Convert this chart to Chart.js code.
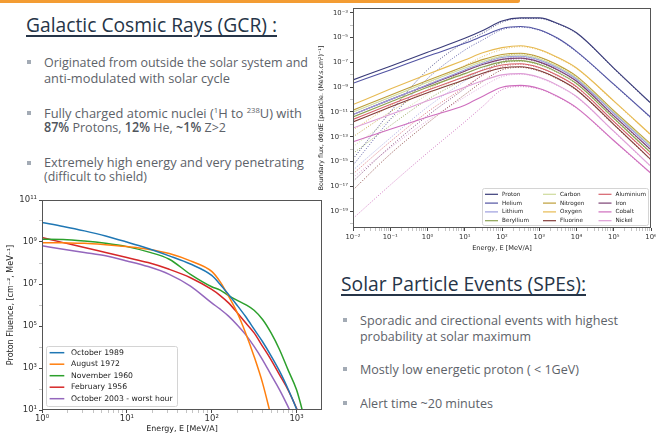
<!DOCTYPE html>
<html>
<head>
<meta charset="utf-8">
<script src="https://cdn.jsdelivr.net/npm/chart.js@4.4.0/dist/chart.umd.min.js"></script>
<style>
  body { margin:0; width:656px; height:440px; overflow:hidden; background:#fff; position:relative; font-family:'Open Sans', sans-serif; }
  .bar { position:absolute; left:0; top:-2px; width:520px; height:5px; background:#f39c33; border-radius:0 4px 4px 0; }
  .head { position:absolute; font-size:20px; color:#263548; text-decoration:underline; text-decoration-thickness:1.5px; text-underline-offset:3px; white-space:nowrap; line-height:1; transform-origin:0 0; }
  .line { position:absolute; font-size:13.5px; color:#5d6269; white-space:nowrap; line-height:1; transform-origin:0 0; }
  .line b { color:#50555c; font-weight:600; }
  .line sup { font-size:8px; line-height:0; }
  .sq { position:absolute; width:4px; height:4px; background:#a3abb5; }
  canvas { position:absolute; }
</style>
</head>
<body>
<div class="bar"></div>

<div class="head" data-w="251" style="left:26px;top:15px">Galactic Cosmic Rays (GCR) :</div>
<div class="sq" style="left:27px;top:60px"></div>
<div class="line" data-w="264" style="left:44px;top:56px">Originated from outside the solar system and</div>
<div class="line" data-w="186" style="left:44px;top:72px">anti-modulated with solar cycle</div>
<div class="sq" style="left:27px;top:111px"></div>
<div class="line" data-w="258" style="left:44px;top:107px">Fully charged atomic nuclei (<sup>1</sup>H to <sup>238</sup>U) with</div>
<div class="line" data-w="182" style="left:44px;top:121px"><b>87%</b> Protons, <b>12%</b> He, <b>~1%</b> Z&gt;2</div>
<div class="sq" style="left:27px;top:161px"></div>
<div class="line" data-w="260" style="left:44px;top:156px">Extremely high energy and very penetrating</div>
<div class="line" data-w="103" style="left:44px;top:170px">(difficult to shield)</div>

<div class="head" data-w="245" style="left:341px;top:274px">Solar Particle Events (SPEs):</div>
<div class="sq" style="left:343px;top:318px"></div>
<div class="line" data-w="258" style="left:360px;top:314px">Sporadic and cirectional events with highest</div>
<div class="line" data-w="171" style="left:360px;top:330px">probability at solar maximum</div>
<div class="sq" style="left:343px;top:367px"></div>
<div class="line" data-w="219" style="left:360px;top:363px">Mostly low energetic proton ( &lt; 1GeV)</div>
<div class="sq" style="left:343px;top:401px"></div>
<div class="line" data-w="133" style="left:360px;top:397px">Alert time ~20 minutes</div>

<canvas id="gcr" width="350" height="260" style="left:312px;top:0"></canvas>
<canvas id="spe" width="330" height="250" style="left:0;top:190px"></canvas>

<script>
// ---- GCR boundary flux (right chart), values are log10 of flux ----
const gcrEnergy = [0.01, 0.1, 1, 10, 31.6, 100, 316, 1000, 3162, 10000, 1e5, 1e6];
const gcrElements = ['Proton', 'Helium', 'Lithium', 'Beryllium', 'Carbon', 'Nitrogen',
                     'Oxygen', 'Fluorine', 'Aluminium', 'Iron', 'Cobalt', 'Nickel'];
const gcrColors = ['#393b79', '#5254a3', '#9c9ede', '#8ca252', '#cedb9c', '#bd9e39',
                   '#e7ba52', '#843c39', '#d6616b', '#7b4173', '#ce6dbd', '#de9ed6'];

const protonSolid    = [-8.41, -7.3, -6.17, -5.05, -4.4, -3.65, -3.4, -3.4, -3.85, -4.6, -7.45, -10.3];
const heliumSolid    = [-8.68, -7.6, -6.5, -5.45, -4.85, -4.25, -4.1, -4.35, -5.05, -6.1, -8.75, -11.45];
const lithiumSolid   = [-11.2, -10.0, -8.8, -7.6, -7.05, -6.6, -6.5, -6.8, -7.45, -8.35, -11.1, -13.85];
const berylliumSolid = [-11.4, -10.2, -9.0, -7.9, -7.35, -6.95, -6.85, -7.15, -7.8, -8.7, -11.5, -14.3];
const carbonSolid    = [-11.0, -9.8, -8.6, -7.45, -6.9, -6.5, -6.4, -6.7, -7.35, -8.25, -11.0, -13.7];
const nitrogenSolid  = [-10.85, -9.65, -8.45, -7.3, -6.75, -6.35, -6.25, -6.55, -7.2, -8.1, -10.9, -13.6];
const oxygenSolid    = [-10.4, -9.15, -7.95, -6.8, -6.2, -5.8, -5.65, -5.95, -6.6, -7.45, -10.1, -12.85];
const fluorineSolid  = [-11.8, -10.6, -9.45, -8.4, -7.85, -7.45, -7.35, -7.65, -8.3, -9.2, -12.0, -14.85];
const aluminiumSolid = [-11.6, -10.4, -9.25, -8.15, -7.6, -7.2, -7.1, -7.4, -8.05, -8.95, -11.75, -14.55];
const ironSolid      = [-11.2, -10.0, -8.85, -7.7, -7.15, -6.75, -6.65, -6.95, -7.6, -8.5, -11.3, -14.05];
const cobaltSolid    = [-13.4, -12.4, -11.4, -10.45, -9.7, -9.0, -8.85, -9.1, -9.75, -10.65, -13.3, -15.95];
const nickelSolid    = [-12.3, -11.2, -10.1, -9.0, -8.45, -8.0, -7.9, -8.2, -8.85, -9.75, -12.55, -15.4];

const protonDotted    = [-14.8, -11.0, -7.6, -5.35, -4.6, -3.75, -3.45, -3.45, -3.9, -4.65, -7.5, -10.35];
const heliumDotted    = [-15.3, -11.6, -8.3, -6.0, -5.15, -4.35, -4.15, -4.4, -5.1, -6.15, -8.8, -11.5];
const lithiumDotted   = [-15.7, -13.1, -10.6, -8.5, -7.5, -6.75, -6.55, -6.85, -7.5, -8.4, -11.15, -13.9];
const berylliumDotted = [-14.35, -12.1, -10.0, -8.35, -7.6, -7.05, -6.9, -7.2, -7.85, -8.75, -11.55, -14.35];
const carbonDotted    = [-13.8, -11.6, -9.6, -8.0, -7.2, -6.65, -6.45, -6.75, -7.4, -8.3, -11.05, -13.75];
const nitrogenDotted  = [-13.0, -11.0, -9.2, -7.7, -7.0, -6.5, -6.3, -6.6, -7.25, -8.15, -10.95, -13.65];
const oxygenDotted    = [-12.45, -10.5, -8.75, -7.25, -6.5, -5.95, -5.72, -6.0, -6.65, -7.5, -10.15, -12.9];
const fluorineDotted  = [-17.3, -14.4, -11.9, -9.6, -8.5, -7.6, -7.4, -7.7, -8.35, -9.25, -12.05, -14.9];
const aluminiumDotted = [-16.0, -13.4, -11.0, -9.0, -8.0, -7.35, -7.15, -7.45, -8.1, -9.0, -11.8, -14.6];
const ironDotted      = [-16.6, -13.8, -11.3, -9.1, -7.95, -6.95, -6.7, -7.0, -7.65, -8.55, -11.35, -14.1];
const cobaltDotted    = [-19.6, -16.9, -14.3, -11.8, -10.5, -9.2, -8.95, -9.15, -9.8, -10.7, -13.35, -16.0];
const nickelDotted    = [-16.3, -13.9, -11.7, -9.8, -8.9, -8.15, -7.95, -8.25, -8.9, -9.8, -12.6, -15.45];

const gcrSolid = [protonSolid, heliumSolid, lithiumSolid, berylliumSolid, carbonSolid, nitrogenSolid,
                  oxygenSolid, fluorineSolid, aluminiumSolid, ironSolid, cobaltSolid, nickelSolid];
const gcrDotted = [protonDotted, heliumDotted, lithiumDotted, berylliumDotted, carbonDotted, nitrogenDotted,
                   oxygenDotted, fluorineDotted, aluminiumDotted, ironDotted, cobaltDotted, nickelDotted];
const gcrXLabels = [-2, -1, 0, 1, 2, 3, 4, 5, 6];
const gcrYLabels = [-19, -17, -15, -13, -11, -9, -7, -5, -3];

// ---- SPE proton fluence (left chart), values are log10 of fluence ----
const speEnergy = [1, 1.78, 3.16, 5.62, 10, 17.8, 31.6, 56.2, 100, 126, 158, 200, 251, 316, 398, 501, 631, 794, 1000, 1259];
const speEvents = ['October 1989', 'August 1972', 'November 1960', 'February 1956', 'October 2003 - worst hour'];
const speColors = ['#1f77b4', '#ff7f0e', '#2ca02c', '#d62728', '#9467bd'];
const oct1989 = [9.93, 9.74, 9.53, 9.29, 9.0, 8.69, 8.34, 7.95, 7.41, 6.98, 6.5, 5.98, 5.45, 4.85, 4.25, 3.58, 2.85, 2.0, 1.05, 0.0];
const aug1972 = [8.97, 8.96, 8.94, 8.87, 8.78, 8.66, 8.45, 8.1, 7.6, 7.1, 6.42, 5.63, 4.67, 3.55, 2.28, 0.7, null, null, null, null];
const nov1960 = [9.13, 9.12, 9.05, 8.94, 8.78, 8.53, 8.18, 7.46, 6.87, 6.71, 6.45, 6.22, 6.02, 5.75, 5.31, 4.67, 3.87, 2.91, 1.96, 0.5];
const feb1956 = [9.21, 8.97, 8.74, 8.5, 8.26, 8.02, 7.7, 7.3, 6.74, 6.45, 6.1, 5.63, 5.15, 4.67, 4.03, 3.39, 2.67, 1.96, 1.08, 0.1];
const oct2003 = [8.82, 8.66, 8.5, 8.34, 8.1, 7.83, 7.46, 6.9, 6.1, 5.8, 5.47, 5.05, 4.59, 4.03, 3.39, 2.67, 1.96, 1.16, 0.3, null];
const speSeries = [oct1989, aug1972, nov1960, feb1956, oct2003];
const speXLabels = [0, 1, 2, 3];
const speYLabels = [1, 3, 5, 7, 9, 11];

// ---- helpers ----
const SUP = {'-': '⁻', '0': '⁰', '1': '¹', '2': '²', '3': '³', '4': '⁴', '5': '⁵', '6': '⁶', '7': '⁷', '8': '⁸', '9': '⁹'};
function expOf(v) {
  const e = Math.log10(v), n = Math.round(e);
  return Math.abs(e - n) < 1e-6 ? n : null;
}
function powLabel(n) { return '10' + String(n).split('').map(c => SUP[c]).join(''); }

function logTicks(lo, hi, subs) {
  const t = [];
  for (let n = Math.floor(lo); n <= Math.ceil(hi); n++) {
    for (const s of subs) {
      const v = s * Math.pow(10, n), e = Math.log10(v);
      if (e >= lo - 1e-9 && e <= hi + 1e-9) t.push({value: v});
    }
  }
  return t;
}

function logAxis(lo, hi, subs, labels, o) {
  const isMajor = c => labels.includes(expOf(c.tick.value));
  return {
    type: 'logarithmic',
    min: Math.pow(10, lo), max: Math.pow(10, hi),
    afterBuildTicks: s => { s.ticks = logTicks(lo, hi, subs); },
    afterFit: o.fit,
    border: {display: false},
    grid: {
      drawOnChartArea: false, drawTicks: true, tickLength: 3,
      tickColor: c => isMajor(c) ? '#333' : '#888',
      tickWidth: c => isMajor(c) ? 0.9 : 0.5
    },
    ticks: {
      autoSkip: false, maxRotation: 0, padding: o.pad, color: '#333',
      font: {family: 'DejaVu Sans', size: o.size},
      callback: v => { const n = expOf(v); return labels.includes(n) ? powLabel(n) : ''; }
    },
    title: {
      display: true, text: o.title, color: '#222',
      font: {family: 'DejaVu Sans', size: o.tsize},
      padding: o.tpad
    }
  };
}

const framePlugin = {
  id: 'frame',
  afterDraw(chart) {
    const {ctx, chartArea: a} = chart;
    ctx.save();
    ctx.strokeStyle = '#555';
    ctx.lineWidth = 1;
    ctx.strokeRect(Math.round(a.left) + 0.5, Math.round(a.top) + 0.5,
                   Math.round(a.right - a.left) - 1, Math.round(a.bottom - a.top) - 1);
    ctx.restore();
  }
};

const legendPlugin = {
  id: 'boxLegend',
  afterDraw(chart, args, o) {
    const {ctx, chartArea: a} = chart;
    const items = chart.data.datasets.filter(d => d.inLegend);
    const x0 = o.right ? a.right - o.inset - o.width : a.left + o.inset;
    const y0 = a.bottom - o.inset - o.height;
    ctx.save();
    ctx.beginPath();
    ctx.roundRect(x0 + 0.5, y0 + 0.5, o.width, o.height, 2);
    ctx.fillStyle = 'rgba(255,255,255,0.85)';
    ctx.fill();
    ctx.strokeStyle = '#d4d4d4';
    ctx.lineWidth = 1;
    ctx.stroke();
    ctx.font = o.size + 'px "DejaVu Sans"';
    ctx.textBaseline = 'middle';
    items.forEach((d, i) => {
      const c = Math.floor(i / o.rows), r = i % o.rows;
      const x = x0 + o.colX[c], y = y0 + o.rowTop + r * o.rowH;
      ctx.strokeStyle = d.borderColor;
      ctx.lineWidth = o.lineW;
      ctx.beginPath();
      ctx.moveTo(x + o.hx[0], y);
      ctx.lineTo(x + o.hx[1], y);
      ctx.stroke();
      ctx.fillStyle = '#222';
      ctx.fillText(d.label, x + o.tx, y);
    });
    ctx.restore();
  }
};

// ---- right chart: GCR ----
const gcrDatasets = [];
gcrElements.forEach((name, i) => {
  gcrDatasets.push({
    label: name, inLegend: true,
    data: gcrEnergy.map((e, j) => ({x: e, y: Math.pow(10, gcrSolid[i][j])})),
    borderColor: gcrColors[i], borderWidth: 1.1,
    pointRadius: 0, cubicInterpolationMode: 'monotone'
  });
});
gcrElements.forEach((name, i) => {
  gcrDatasets.push({
    label: name + ' (dotted)', inLegend: false,
    data: gcrEnergy.map((e, j) => ({x: e, y: Math.pow(10, gcrDotted[i][j])})),
    borderColor: gcrColors[i], borderWidth: 0.9, borderDash: [1, 1.6],
    pointRadius: 0, cubicInterpolationMode: 'monotone'
  });
});

new Chart(document.getElementById('gcr'), {
  type: 'line',
  data: {datasets: gcrDatasets},
  options: {
    responsive: false, animation: false, devicePixelRatio: 1,
    layout: {padding: {top: 8, right: 11, left: 0, bottom: 0}},
    plugins: {
      legend: {display: false}, tooltip: {enabled: false},
      boxLegend: {right: true, inset: 3, width: 166, height: 37, rows: 4, rowTop: 6.3, rowH: 8.8,
                  colX: [0, 58, 113.5], hx: [3, 16], tx: 20, lineW: 1.2, size: 5.7}
    },
    scales: {
      x: logAxis(-2, 6, [1, 2, 3, 4, 5, 6, 7, 8, 9], gcrXLabels,
                 {fit: s => { s.height = 32; }, pad: 2, size: 6.8, title: 'Energy, E [MeV/A]', tsize: 6.6, tpad: {top: 2, bottom: 8}}),
      y: logAxis(-20.37, -2.6, [1], gcrYLabels,
                 {fit: s => { s.width = 41; }, pad: 2, size: 6.8, title: 'Boundary flux, dΦ/dE [particle. (MeV.s.cm²)⁻¹]', tsize: 6.3, tpad: {top: 6, bottom: 2}})
    }
  },
  plugins: [framePlugin, legendPlugin]
});

// ---- left chart: SPE ----
new Chart(document.getElementById('spe'), {
  type: 'line',
  data: {
    datasets: speEvents.map((name, i) => ({
      label: name, inLegend: true,
      data: speEnergy.map((e, j) => ({x: e, y: speSeries[i][j] === null ? null : Math.pow(10, speSeries[i][j])})),
      borderColor: speColors[i], borderWidth: 1.5,
      pointRadius: 0, cubicInterpolationMode: 'monotone'
    }))
  },
  options: {
    responsive: false, animation: false, devicePixelRatio: 1,
    layout: {padding: {top: 10, right: 8, left: 0, bottom: 0}},
    plugins: {
      legend: {display: false}, tooltip: {enabled: false},
      boxLegend: {right: false, inset: 4, width: 131, height: 60, rows: 5, rowTop: 6.7, rowH: 11.5,
                  colX: [0], hx: [3.6, 18.3], tx: 25, lineW: 1.5, size: 7.7}
    },
    scales: {
      x: logAxis(0, 3.3, [1, 2, 3, 4, 5, 6, 7, 8, 9], speXLabels,
                 {fit: s => { s.height = 30; }, pad: 1, size: 8.5, title: 'Energy, E [MeV/A]', tsize: 7.9, tpad: {top: 2, bottom: 6}}),
      y: logAxis(1, 11, [1], speYLabels,
                 {fit: s => { s.width = 42; }, pad: 2, size: 8.5, title: 'Proton Fluence, [cm⁻², MeV⁻¹]', tsize: 8, tpad: {top: 6, bottom: 2}})
    }
  },
  plugins: [framePlugin, legendPlugin]
});

// squeeze slide text lines to the widths they have on the slide
function fitText() {
  document.querySelectorAll('[data-w]').forEach(el => {
    el.style.transform = 'none';
    const w = el.getBoundingClientRect().width;
    el.style.transform = 'scaleX(' + (parseFloat(el.dataset.w) / w) + ')';
  });
}
fitText();
document.fonts.ready.then(fitText);
</script>
</body>
</html>
